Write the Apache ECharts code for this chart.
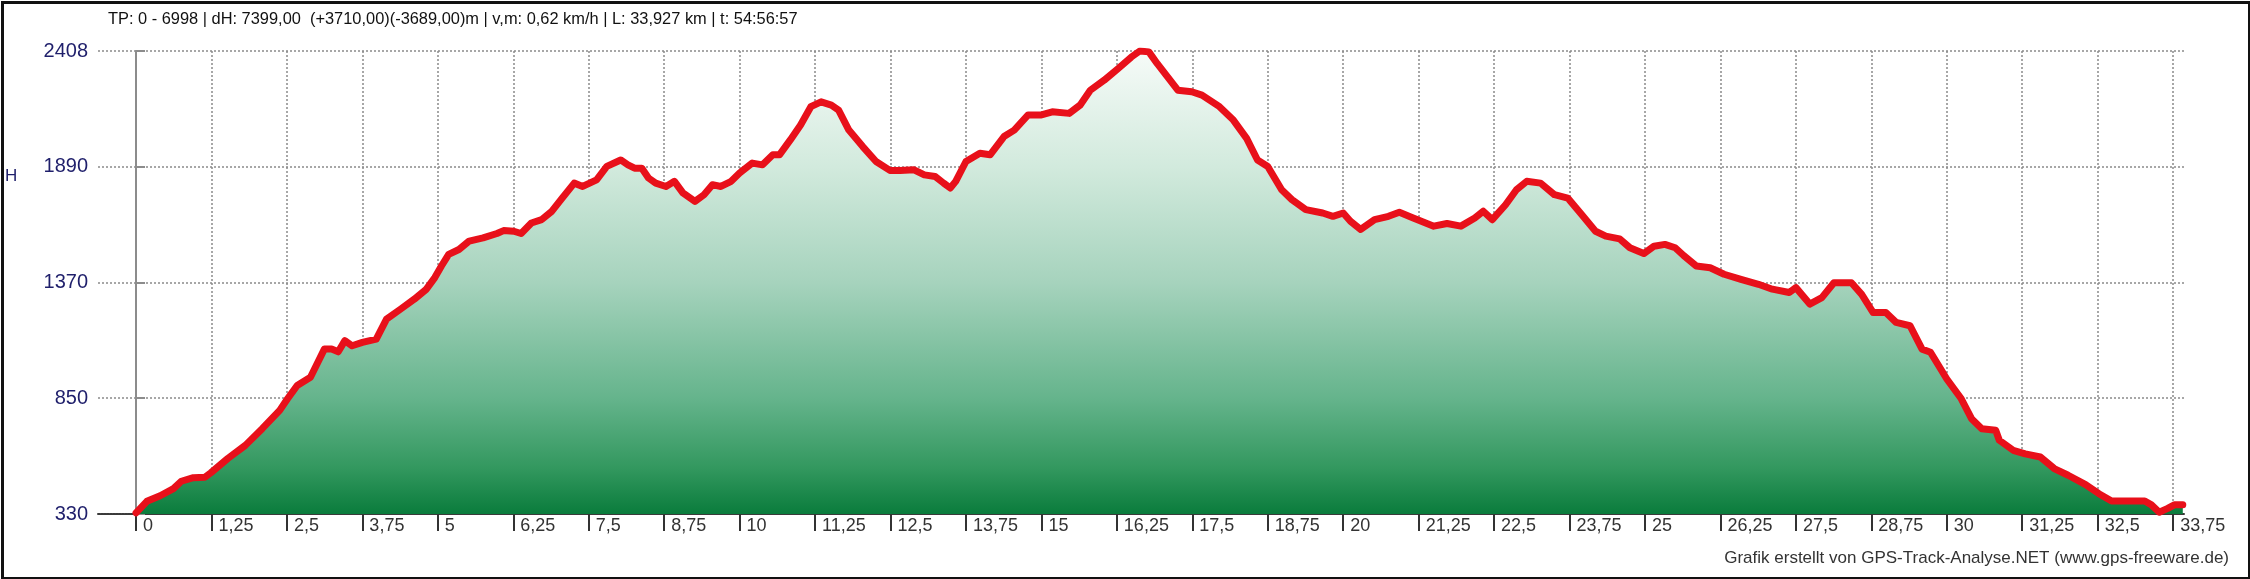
<!DOCTYPE html>
<html>
<head>
<meta charset="utf-8">
<script src="https://cdn.jsdelivr.net/npm/echarts@6.0.0/dist/echarts.min.js"></script>
<style>
html,body{margin:0;padding:0;background:#fff;}
#chart{width:2250px;height:579px;}
</style>
</head>
<body>
<div id="chart"></div>
<script>
// Distance along the track (km)
const distanceKm = [
  0.00,0.18,0.40,0.62,0.75,0.95,1.14,1.24,1.52,1.81,2.09,2.38,2.51,2.67,2.89,3.12,3.24,3.35,3.46,3.58,
  3.75,3.98,4.15,4.38,4.61,4.81,4.95,5.06,5.18,5.35,5.52,5.75,5.98,6.09,6.26,6.38,6.55,6.72,6.89,7.06,
  7.26,7.40,7.63,7.80,8.03,8.15,8.26,8.38,8.49,8.61,8.78,8.92,9.06,9.26,9.41,9.55,9.69,9.86,10.00,10.21,
  10.38,10.55,10.66,10.84,11.01,11.18,11.35,11.52,11.64,11.81,12.04,12.26,12.49,12.66,12.89,13.06,13.24,13.38,13.49,13.58,
  13.75,13.98,14.15,14.38,14.55,14.78,15.00,15.18,15.46,15.64,15.81,16.04,16.27,16.49,16.63,16.78,16.92,17.09,17.26,17.49,
  17.66,17.95,18.18,18.40,18.58,18.75,18.98,19.15,19.38,19.66,19.83,20.00,20.12,20.29,20.52,20.75,20.93,21.16,21.50,21.72,
  21.95,22.18,22.32,22.47,22.69,22.87,23.04,23.27,23.50,23.72,23.95,24.18,24.35,24.58,24.75,24.98,25.15,25.33,25.50,25.64,
  25.85,26.08,26.31,26.59,26.88,27.11,27.39,27.50,27.73,27.93,28.13,28.42,28.59,28.78,28.99,29.16,29.39,29.59,29.73,30.00,
  30.24,30.41,30.58,30.81,30.87,31.10,31.30,31.55,31.78,32.01,32.30,32.52,32.73,33.00,33.28,33.39,33.52,33.66,33.77,33.91
];
// Elevation (m)
const elevationM = [
  335,387,412,444,477,493,495,515,579,638,713,795,847,907,944,1070,1070,1058,1108,1085,
  1100,1115,1205,1249,1294,1339,1391,1443,1495,1517,1555,1569,1589,1602,1599,1589,1636,1651,1689,1748,
  1815,1800,1830,1890,1919,1897,1882,1882,1838,1815,1800,1823,1771,1733,1763,1808,1800,1823,1860,1905,
  1897,1942,1942,2009,2076,2158,2180,2165,2143,2053,1979,1912,1872,1872,1875,1852,1845,1815,1793,1823,
  1912,1949,1942,2024,2053,2121,2121,2135,2128,2165,2232,2277,2329,2381,2408,2404,2351,2292,2232,2225,
  2210,2158,2098,2016,1919,1890,1785,1741,1696,1681,1666,1681,1644,1607,1651,1666,1684,1659,1622,1634,
  1622,1659,1689,1651,1718,1785,1823,1815,1763,1748,1674,1599,1577,1565,1525,1499,1532,1540,1525,1490,
  1443,1435,1406,1383,1361,1339,1324,1346,1272,1301,1368,1368,1316,1234,1234,1190,1175,1070,1056,936,
  847,758,713,706,661,616,600,586,534,504,462,421,388,388,388,371,338,355,371,371
];
// Axis tick values
const xTicks = [0,1.25,2.5,3.75,5,6.25,7.5,8.75,10,11.25,12.5,13.75,15,16.25,17.5,18.75,20,21.25,22.5,23.75,25,26.25,27.5,28.75,30,31.25,32.5,33.75];
const yTicks = [330,850,1370,1890,2408];
const headerText = 'TP: 0 - 6998 | dH: 7399,00  (+3710,00)(-3689,00)m | v,m: 0,62 km/h | L: 33,927 km | t: 54:56:57';
const footerText = 'Grafik erstellt von GPS-Track-Analyse.NET (www.gps-freeware.de)';
const yName = 'H';

const seriesData = distanceKm.map((d, i) => [d, elevationM[i]]);
const FONT = '"Liberation Sans", Arial, sans-serif';

const chart = echarts.init(document.getElementById('chart'), null, {renderer: 'canvas'});
chart.setOption({
  animation: false,
  backgroundColor: '#ffffff',
  grid: {left: 98, right: 66, top: 51, bottom: 65, containLabel: false},
  xAxis: {
    type: 'value',
    min: -0.63,
    max: 33.93,
    axisLine: {show: true, onZero: false, lineStyle: {color: '#3a3a3a', width: 2, type: [2, 1]}},
    axisTick: {show: true, customValues: xTicks, length: 17, inside: false, lineStyle: {color: '#333', width: 2}},
    axisLabel: {
      customValues: xTicks, align: 'left', margin: 3, padding: [0, 0, 0, 7],
      color: '#333', fontFamily: FONT, fontSize: 18,
      formatter: v => String(v).replace('.', ',')
    },
    splitLine: {show: true, lineStyle: {color: '#8a8a8a', width: 1.5, type: [2, 2]}}
  },
  yAxis: {
    type: 'value',
    min: 330,
    max: 2408,
    axisLine: {show: true, lineStyle: {color: '#8c8c8c', width: 2}},
    axisTick: {show: true, customValues: yTicks, inside: true, length: 9, lineStyle: {color: '#8c8c8c', width: 2}},
    axisLabel: {customValues: yTicks, margin: 10, color: '#1f1f6b', fontFamily: FONT, fontSize: 20,
      formatter: v => String(v)},
    splitLine: {show: true, lineStyle: {color: '#8a8a8a', width: 1.5, type: [2, 2]}}
  },
  series: [{
    type: 'line',
    data: seriesData,
    showSymbol: false,
    smooth: false,
    lineStyle: {color: '#e8101a', width: 7, join: 'round', cap: 'round'},
    areaStyle: {
      opacity: 1,
      color: new echarts.graphic.LinearGradient(0, 0, 0, 1, [
        {offset: 0, color: '#f6fbf8'},
        {offset: 0.25, color: '#d2eadd'},
        {offset: 0.5, color: '#a6d3bd'},
        {offset: 0.75, color: '#65b48c'},
        {offset: 0.9, color: '#33985f'},
        {offset: 1, color: '#0a7c3c'}
      ])
    },
    z: 2
  }],
  graphic: [
    {type: 'rect', left: 0, top: 0, z: 100, silent: true,
     shape: {x: 1.5, y: 1.5, width: 2247, height: 576},
     style: {fill: 'none', stroke: '#111', lineWidth: 3}},
    {type: 'text', left: 108, top: 11, style: {text: headerText, fill: '#111', font: '16.4px ' + FONT}},
    {type: 'text', left: 5, top: 168, style: {text: yName, fill: '#1f1f6b', font: '17px ' + FONT}},
    {type: 'text', right: 21, top: 550, style: {text: footerText, fill: '#333', font: '17px ' + FONT}}
  ]
});
</script>
</body>
</html>
